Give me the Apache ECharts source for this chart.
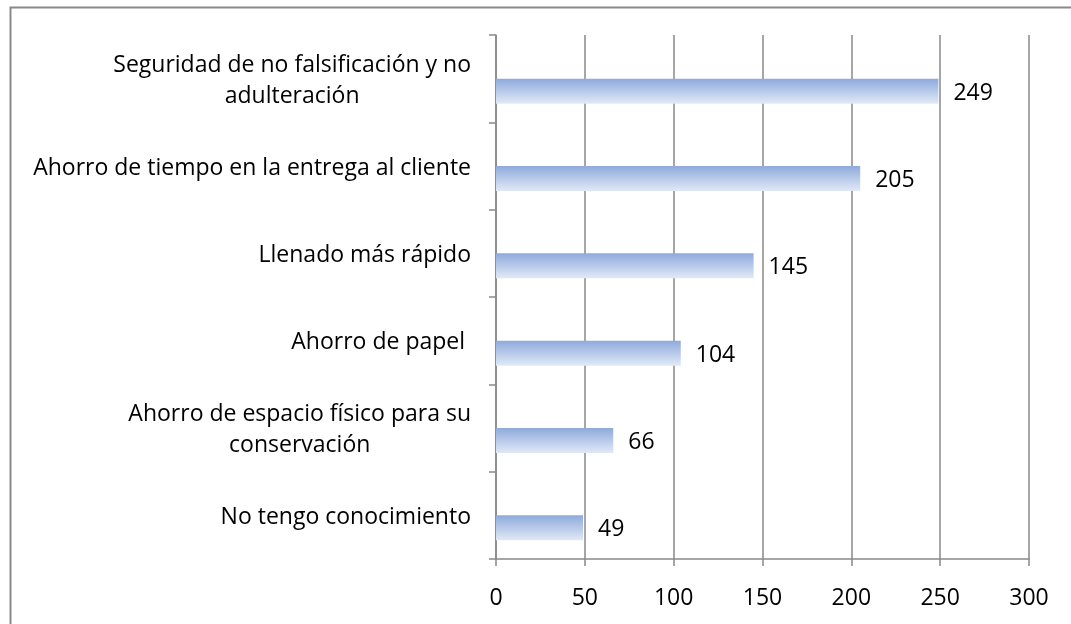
<!DOCTYPE html>
<html>
<head>
<meta charset="utf-8">
<script src="https://cdn.jsdelivr.net/npm/echarts@6/dist/echarts.min.js"></script>
<style>
  html, body { margin: 0; padding: 0; background: #fff; }
  #chart { width: 1071px; height: 624px; }
</style>
</head>
<body>
<div id="chart"></div>
<script>
// categories bottom to top, as the y axis draws them
const categories = [
  'No tengo conocimiento',
  'Ahorro de espacio físico para su\nconservación',
  'Ahorro de papel ',
  'Llenado más rápido',
  'Ahorro de tiempo en la entrega al cliente',
  'Seguridad de no falsificación y no\nadulteración'
];
const values = [49, 66, 104, 145, 205, 249];
const emptyValues = ['-', '-', '-', '-', '-', '-'];
const xTicks = [0, 300, 50]; // min, max, interval

const axisGrey = '#898989';
const font = 'Open Sans';
const fontSize = 23;

const barColor = new echarts.graphic.LinearGradient(0, 0, 0, 1, [
  { offset: 0, color: '#8eaadc' },
  { offset: 1, color: '#e1e9f6' }
]);

const getOptionChart = () => {
  return {
    animation: false,
    grid: { left: 496, right: 42, top: 35, bottom: 65 },
    xAxis: {
      type: 'value',
      min: xTicks[0],
      max: xTicks[1],
      interval: xTicks[2],
      axisLine: { show: true, lineStyle: { color: axisGrey, width: 1.5 } },
      axisTick: { show: true, length: 7, lineStyle: { color: axisGrey, width: 1.5 } },
      splitLine: { show: true, lineStyle: { color: axisGrey, width: 1.5 } },
      axisLabel: { color: '#000', fontFamily: font, fontSize: fontSize, margin: 28 }
    },
    yAxis: {
      type: 'category',
      data: categories,
      axisLine: { show: true, lineStyle: { color: axisGrey, width: 1.5 } },
      axisTick: { show: true, length: 7, lineStyle: { color: axisGrey, width: 1.5 } },
      axisLabel: {
        margin: 25,
        formatter: (v) => v.split('\n').map(s => '{c|' + s + '}').join('\n'),
        rich: {
          c: { align: 'center', color: '#000', fontFamily: font, fontSize: fontSize, lineHeight: 31, padding: [4, 0, 0, 0] }
        }
      }
    },
    series: [
      {
        type: 'bar',
        data: emptyValues,
        barWidth: 25,
        barGap: '0%',
        silent: true
      },
      {
        type: 'bar',
        data: values,
        barWidth: 25,
        barGap: '0%',
        itemStyle: { color: barColor },
        label: {
          show: true,
          position: 'right',
          distance: 15,
          offset: [0, 2],
          color: '#000',
          fontFamily: font,
          fontSize: fontSize
        }
      }
    ],
    graphic: [
      {
        type: 'rect',
        left: 8,
        top: 5,
        shape: { width: 1100, height: 700 },
        style: { fill: 'none', stroke: axisGrey, lineWidth: 2 },
        silent: true
      }
    ]
  };
};

const initCharts = () => {
  const chart = echarts.init(document.getElementById('chart'));
  chart.setOption(getOptionChart());
};

window.addEventListener('load', () => {
  initCharts();
});
</script>
</body>
</html>
